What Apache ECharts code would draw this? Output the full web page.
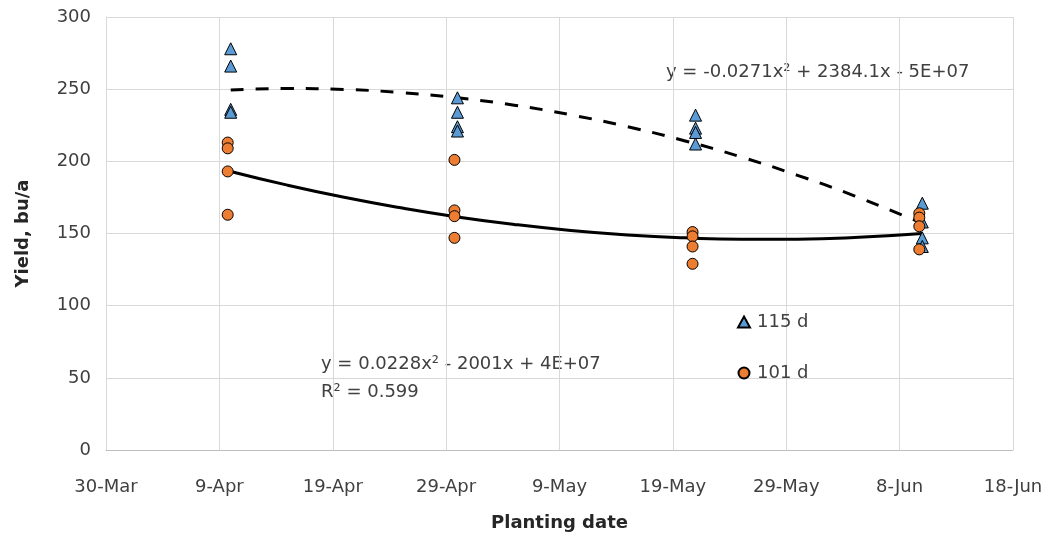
<!DOCTYPE html>
<html><head><meta charset="utf-8">
<script src="https://cdn.jsdelivr.net/npm/echarts@6/dist/echarts.min.js"></script>
<style>html,body{margin:0;padding:0;background:#fff}#c{width:1052px;height:539px}</style>
</head><body><div id="c"></div>
<script>
// ---- data ----
const xTickLabels = ['30-Mar','9-Apr','19-Apr','29-Apr','9-May','19-May','29-May','8-Jun','18-Jun'];
const axisStartDate = '03-30';
const plantingDates = ['04-10','04-30','05-21','06-10'];
const yield115 = [[278,266,236,234],[244,234,224,221],[232,223,220,212],[171,158,147,141]];
const yield101 = [[213,209,193,163],[201,166,162,147],[151,148,141,129],[164,161,155,139]];
const trendDates = ['04-10','04-15','04-20','04-25','04-30','05-05','05-10','05-15','05-20','05-25','05-30','06-04','06-10'];
const trend115 = [249.5,250.4,249.8,247.6,244.0,238.9,232.2,224.0,214.3,203.1,190.3,176.1,157.0];
const trend101 = [193.0,183.5,175.1,167.8,161.5,156.3,152.1,149.0,147.0,146.0,146.1,147.2,150.0];
const eq115 = 'y = -0.0271x² + 2384.1x - 5E+07';
const eq101 = 'y = 0.0228x² - 2001x + 4E+07';
const r2101 = 'R² = 0.599';
const seriesNames = ['115 d','101 d'];

// ---- helpers ----
function dayOffset(md){
  const [m,d] = md.split('-').map(Number);
  const [m0,d0] = axisStartDate.split('-').map(Number);
  return Math.round((Date.UTC(2019,m-1,d) - Date.UTC(2019,m0-1,d0)) / 86400000);
}
function scatterData(groups){
  const out = [];
  groups.forEach((vals,i)=>vals.forEach(v=>out.push([dayOffset(plantingDates[i]), v])));
  return out;
}
function lineData(vals){ return trendDates.map((d,i)=>[dayOffset(d), vals[i]]); }

const FONT = '"DejaVu Sans", sans-serif';
const TXT = '#404040';
const chart = echarts.init(document.getElementById('c'), null, {renderer:'canvas'});
chart.setOption({
  animation:false,
  backgroundColor:'#fff',
  grid:{left:106, right:39, top:17, bottom:89, containLabel:false},
  xAxis:{
    type:'value', min:0, max:80, interval:10,
    axisLine:{show:true, lineStyle:{color:'#bfbfbf', width:1}},
    axisTick:{show:false},
    splitLine:{show:true, lineStyle:{color:'#d9d9d9', width:1}},
    axisLabel:{margin:28, fontSize:18, color:TXT, fontFamily:FONT, formatter:v=>xTickLabels[Math.round(v/10)]},
    name:'Planting date', nameLocation:'middle', nameGap:64,
    nameTextStyle:{fontSize:18, fontWeight:'bold', color:'#262626', fontFamily:FONT}
  },
  yAxis:{
    type:'value', min:0, max:300, interval:50,
    axisLine:{show:true, lineStyle:{color:'#d9d9d9', width:1}},
    axisTick:{show:false},
    splitLine:{show:true, lineStyle:{color:'#d9d9d9', width:1}},
    axisLabel:{margin:15, fontSize:18, color:TXT, fontFamily:FONT},
    name:'Yield, bu/a', nameLocation:'middle', nameGap:74, nameRotate:90,
    nameTextStyle:{fontSize:18, fontWeight:'bold', color:'#262626', fontFamily:FONT}
  },
  legend:{
    data:seriesNames, orient:'vertical', left:732, top:308,
    itemWidth:12, itemHeight:11, itemGap:33,
    textStyle:{fontSize:18, color:TXT, fontFamily:FONT, padding:[0,0,0,2]}
  },
  series:[
    {name:'trend 115', type:'line', data:lineData(trend115), smooth:true, showSymbol:false, symbol:'none',
     lineStyle:{color:'#000', width:3, type:[13,12]}, z:2, silent:true},
    {name:'trend 101', type:'line', data:lineData(trend101), smooth:true, showSymbol:false, symbol:'none',
     lineStyle:{color:'#000', width:3}, z:2, silent:true},
    {name:seriesNames[0], type:'scatter', data:scatterData(yield115), symbol:'triangle', symbolSize:12,
     itemStyle:{color:'#5B9BD5', borderColor:'#000', borderWidth:1, opacity:1}, z:3},
    {name:seriesNames[1], type:'scatter', data:scatterData(yield101), symbol:'circle', symbolSize:11,
     symbolOffset:[-3,0],
     itemStyle:{color:'#ED7D31', borderColor:'#000', borderWidth:1, opacity:1}, z:3}
  ],
  graphic:[
    {type:'text', left:666, top:63, style:{text:eq115, fontSize:18, fill:TXT, fontFamily:FONT}},
    {type:'text', left:321, top:355, style:{text:eq101, fontSize:18, fill:TXT, fontFamily:FONT}},
    {type:'text', left:321, top:383, style:{text:r2101, fontSize:18, fill:TXT, fontFamily:FONT}}
  ]
});
</script></body></html>
